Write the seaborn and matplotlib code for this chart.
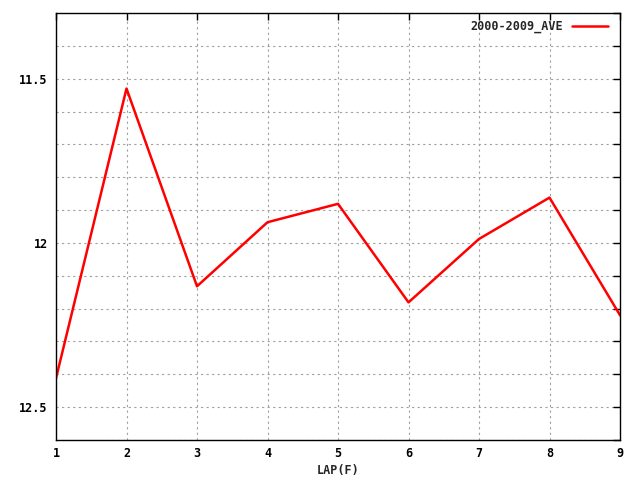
import matplotlib
matplotlib.use("Agg")
import matplotlib.pyplot as plt
import seaborn as sns
import pandas as pd
import numpy as np
from matplotlib.ticker import FixedLocator, MultipleLocator

laps = [1, 2, 3, 4, 5, 6, 7, 8, 9]
ave = [12.412, 11.530, 12.132, 11.937, 11.881, 12.181, 11.988, 11.862, 12.220]
series_name = "2000-2009_AVE"
y_major = [11.5, 12.0, 12.5]
y_labels = ["11.5", "12", "12.5"]

sns.set_style("white")
plt.rcParams['font.family'] = ['DejaVu Sans Mono', 'DejaVu Sans']
plt.rcParams['font.weight'] = 'bold'

df = pd.DataFrame({"lap": laps, "ave": ave, "series": series_name})

fig = plt.figure(figsize=(6.4, 4.8), dpi=100)
ax = fig.add_axes([56/640, 40/480, 564/640, 427/480])
sns.lineplot(data=df, x="lap", y="ave", hue="series", palette=["#ff0000"],
             linewidth=1.8, ax=ax)

ax.set_xlim(1, 9)
ax.set_ylim(12.6, 11.3)
ax.set_xticks(laps)
ax.set_xticklabels([str(v) for v in laps])
ax.yaxis.set_major_locator(FixedLocator(y_major))
ax.set_yticklabels(y_labels)
ax.yaxis.set_minor_locator(MultipleLocator(0.1))
ax.grid(True, which="both", axis="y", color="#a0a0a0", linestyle=(0, (2, 3)), linewidth=0.8)
ax.grid(True, which="major", axis="x", color="#a0a0a0", linestyle=(0, (2, 3)), linewidth=0.8)
ax.tick_params(axis="both", which="both", direction="in", top=True, right=True,
               length=5, width=1, labelsize=8.5, colors="black")
ax.tick_params(axis="x", pad=5)
ax.tick_params(axis="y", pad=6)
for s in ax.spines.values():
    s.set_color("black")
    s.set_linewidth(1)
ax.set_xlabel("LAP(F)", fontsize=8.5, fontweight="bold", labelpad=3)
ax.set_ylabel("")
leg = ax.legend(loc="upper right", bbox_to_anchor=(0.989, 0.998), frameon=False,
                markerfirst=False, fontsize=8.5, handlelength=3.0, borderaxespad=0.1)
for t in leg.get_texts():
    t.set_fontweight("bold")

fig.savefig("out.png", dpi=100)
